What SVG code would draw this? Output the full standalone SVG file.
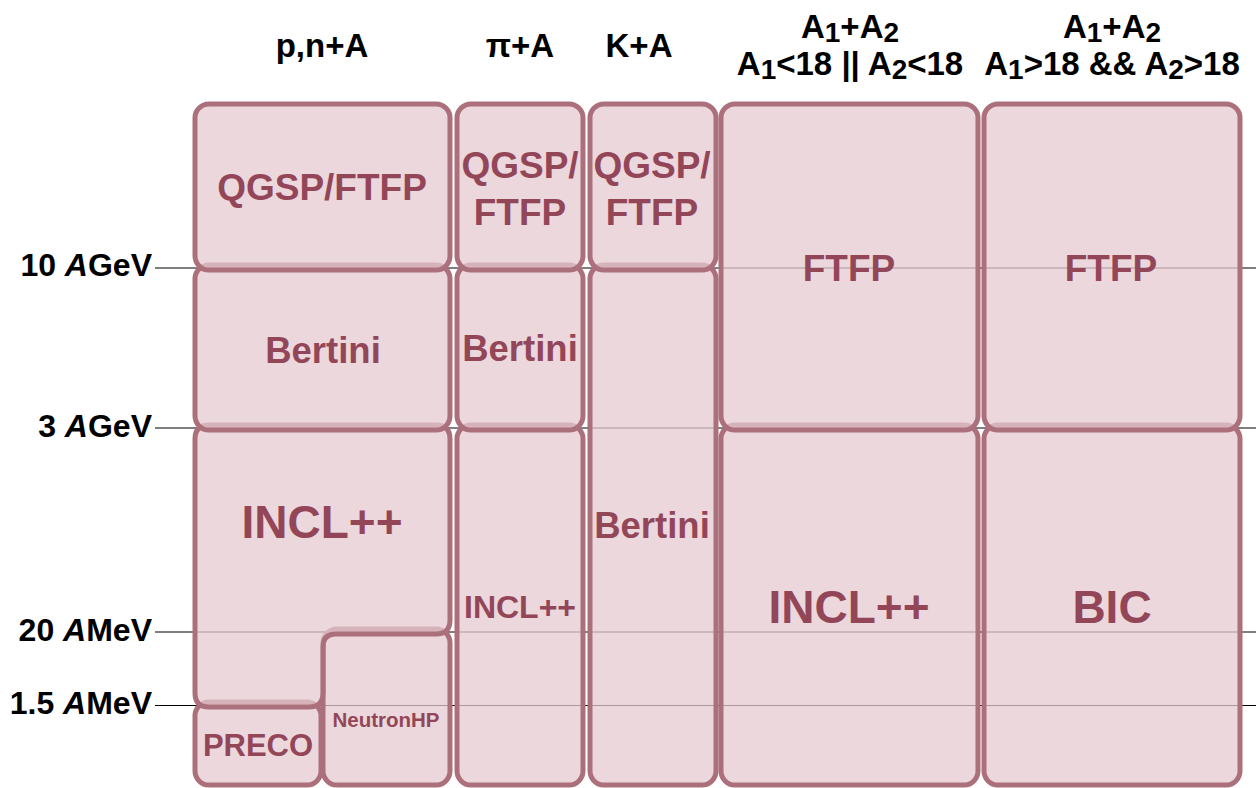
<svg xmlns="http://www.w3.org/2000/svg" width="1256" height="788" viewBox="0 0 1256 788">
<style>
.box{fill:#e4cad0;fill-opacity:0.75;stroke:#ac707c;stroke-width:5}
.lbl{font-family:"Liberation Sans",Arial,sans-serif;font-weight:bold;fill:#944659;text-anchor:middle}
.hdr{font-family:"Liberation Sans",Arial,sans-serif;font-weight:bold;fill:#000;font-size:33px;text-anchor:middle}
.ax{font-family:"Liberation Sans",Arial,sans-serif;font-weight:bold;fill:#000;font-size:32px;text-anchor:end}
.sub{font-size:28px}
.grid{stroke:#000;stroke-width:1.2}
</style>
<rect width="1256" height="788" fill="#fff"/>
<g id="headers">
<text class="hdr" x="322" y="57">p,n+A</text>
<text class="hdr" x="520" y="57">π+A</text>
<text class="hdr" x="639" y="57">K+A</text>
<text class="hdr" x="850" y="38">A<tspan class="sub" dy="4">1</tspan><tspan dy="-4">+A</tspan><tspan class="sub" dy="4">2</tspan></text>
<text class="hdr" x="850" y="75">A<tspan class="sub" dy="4">1</tspan><tspan dy="-4">&lt;18 || A</tspan><tspan class="sub" dy="4">2</tspan><tspan dy="-4">&lt;18</tspan></text>
<text class="hdr" x="1112" y="38">A<tspan class="sub" dy="4">1</tspan><tspan dy="-4">+A</tspan><tspan class="sub" dy="4">2</tspan></text>
<text class="hdr" x="1112" y="75">A<tspan class="sub" dy="4">1</tspan><tspan dy="-4">&gt;18 &amp;&amp; A</tspan><tspan class="sub" dy="4">2</tspan><tspan dy="-4">&gt;18</tspan></text>
</g>
<g id="axis">
<text class="ax" x="152" y="276">10 <tspan font-style="italic">A</tspan>GeV</text>
<text class="ax" x="152" y="437">3 <tspan font-style="italic">A</tspan>GeV</text>
<text class="ax" x="152" y="641">20 <tspan font-style="italic">A</tspan>MeV</text>
<text class="ax" x="152" y="714">1.5 <tspan font-style="italic">A</tspan>MeV</text>
</g>
<g id="connectors">
<line class="grid" x1="155" y1="268" x2="1256" y2="268"/>
<line class="grid" x1="155" y1="428" x2="1256" y2="428"/>
<line class="grid" x1="155" y1="632" x2="1256" y2="632"/>
<line class="grid" x1="155" y1="705.5" x2="1256" y2="705.5"/>
</g>
<g id="preco">
<rect class="box" x="195" y="702" width="126" height="83" rx="14"/>
<text class="lbl" x="258" y="756" font-size="31">PRECO</text>
</g>
<g id="neutronhp">
<rect class="box" x="323" y="629" width="127" height="156" rx="14"/>
<text class="lbl" x="386" y="727" font-size="20.5">NeutronHP</text>
</g>
<g id="incl1">
<path class="box" d="M209 425 H436 Q450 425 450 439 V620 Q450 634 436 634 H336 Q323 634 323 647 V693 Q323 707 309 707 H209 Q195 707 195 693 V439 Q195 425 209 425 Z"/>
<text class="lbl" x="322" y="538" font-size="46">INCL++</text>
</g>
<g id="bertini1">
<rect class="box" x="195" y="265" width="255" height="165" rx="14"/>
<text class="lbl" x="323" y="363" font-size="36.5">Bertini</text>
</g>
<g id="qgsp1">
<rect class="box" x="195" y="104" width="255" height="166" rx="14"/>
<text class="lbl" x="322" y="200" font-size="37">QGSP/FTFP</text>
</g>
<g id="incl2">
<rect class="box" x="457" y="425" width="126" height="360" rx="14"/>
<text class="lbl" x="520" y="618" font-size="32">INCL++</text>
</g>
<g id="bertini2">
<rect class="box" x="457" y="265" width="126" height="165" rx="14"/>
<text class="lbl" x="520" y="361" font-size="36.5">Bertini</text>
</g>
<g id="qgsp2">
<rect class="box" x="457" y="104" width="126" height="166" rx="14"/>
<text class="lbl" x="520" y="178" font-size="37">QGSP/</text>
<text class="lbl" x="520" y="225" font-size="37">FTFP</text>
</g>
<g id="bertini3">
<rect class="box" x="590" y="265" width="126" height="520" rx="14"/>
<text class="lbl" x="652" y="538" font-size="36.5">Bertini</text>
</g>
<g id="qgsp3">
<rect class="box" x="590" y="104" width="126" height="166" rx="14"/>
<text class="lbl" x="652" y="178" font-size="37">QGSP/</text>
<text class="lbl" x="652" y="225" font-size="37">FTFP</text>
</g>
<g id="incl4">
<rect class="box" x="721" y="425" width="257" height="360" rx="14"/>
<text class="lbl" x="849" y="623" font-size="46">INCL++</text>
</g>
<g id="ftfp4">
<rect class="box" x="721" y="104" width="257" height="326" rx="14"/>
<text class="lbl" x="849" y="281" font-size="37">FTFP</text>
</g>
<g id="bic5">
<rect class="box" x="984" y="425" width="256" height="360" rx="14"/>
<text class="lbl" x="1112" y="623" font-size="46">BIC</text>
</g>
<g id="ftfp5">
<rect class="box" x="984" y="104" width="256" height="326" rx="14"/>
<text class="lbl" x="1111" y="281" font-size="37">FTFP</text>
</g>
</svg>
